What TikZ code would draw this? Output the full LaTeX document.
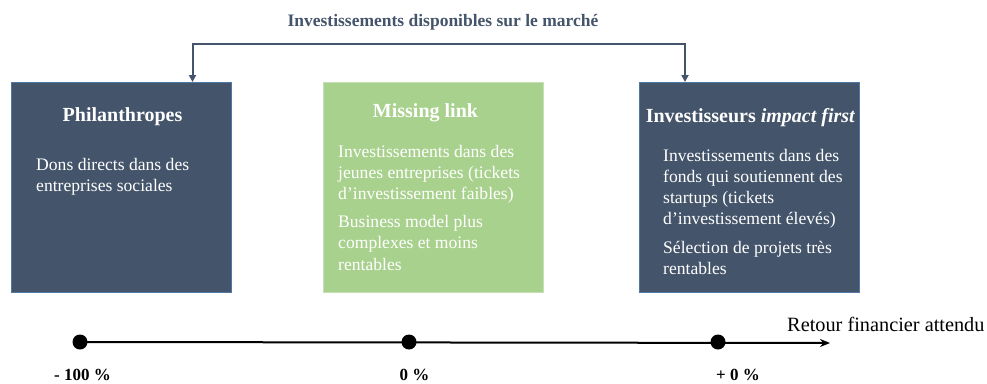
\documentclass[tikz,border=0pt]{standalone}
\usepackage{fontspec}
\setmainfont{Liberation Serif}
\usetikzlibrary{arrows.meta}
\definecolor{slate}{HTML}{44546A}
\definecolor{slateedge}{HTML}{4F7AA8}
\definecolor{leaf}{HTML}{A9D18E}
\definecolor{leafedge}{HTML}{C5E0B4}
% left-aligned block whose reference point is the first baseline
\newcommand{\firstline}[1]{\begin{tabular}[t]{@{}l@{}}#1\end{tabular}}
\begin{document}
\begin{tikzpicture}[x=1pt,y=-1pt,
  darkbox/.style={draw=slateedge,fill=slate,line width=0.8pt},
  greenbox/.style={draw=leafedge,fill=leaf,line width=0.8pt},
  heading/.style={text=white,font=\fontsize{20}{24}\selectfont\bfseries,inner sep=0pt,anchor=base},
  body/.style={text=white,font=\fontsize{17.6}{21.3}\selectfont,inner sep=0pt,anchor=base west},
  flow/.style={draw=slate,line width=2pt,-{Triangle[length=7pt,width=7pt]}},
  dot/.style={circle,fill=black,inner sep=0pt,minimum size=15pt},
  axis/.style={draw=black,line width=2pt,-{Stealth[length=10pt,width=8pt]}},
  tick/.style={font=\fontsize{17}{20}\selectfont\bfseries,inner sep=0pt,anchor=base}]
\useasboundingbox (0,0) rectangle (987,383);

% title over the bracket
\node[text=slate,font=\fontsize{17.5}{21}\selectfont\bfseries,inner sep=0pt,anchor=base]
  (title) at (443,26) {Investissements disponibles sur le marché};

% the three categories
\path[darkbox] (11.5,82) rectangle (231,292);
\coordinate (philTop) at (192.5,82);
\path[greenbox] (323.5,82) rectangle (543,292);
\path[darkbox] (639.5,82) rectangle (859,292);
\coordinate (impTop) at (685,82);

\node[heading] (philH) at (122.5,121) {Philanthropes};
\node[body] (philB) at (36,170) {\firstline{Dons directs dans des\\entreprises sociales}};

\node[heading] (missH) at (425.5,117) {Missing link};
\node[body] (missB) at (338,157) {\firstline{Investissements dans des\\jeunes entreprises (tickets\\d’investissement faibles)\\[6.5pt]Business model plus\\complexes et moins\\rentables}};

\node[heading] (impH) at (750.5,122) {Investisseurs \textit{impact first}};
\node[body] (impB) at (663,161) {\firstline{Investissements dans des\\fonds qui soutiennent des\\startups (tickets\\d’investissement élevés)\\[7pt]Sélection de projets très\\rentables}};

% bracket from the market to both ends
\coordinate (brL) at (192.5,43.5);
\coordinate (brR) at (685,43.5);
\draw[flow] (brR) -- (brL) -- (philTop);
\draw[flow] (brL) -- (brR) -- (impTop);

% expected financial return axis
\coordinate (axend) at (830,343);
\node[dot] (d1) at (80,342) {};
\node[dot] (d2) at (409,342) {};
\node[dot] (d3) at (718,342) {};
\draw[axis] (d1.center) -- (axend);
\node[font=\fontsize{20.3}{24}\selectfont,inner sep=0pt,anchor=base west] (ret) at (787,331) {Retour financier attendu};

\node[tick] (t1) at (82.5,380) {- 100 \%};
\node[tick] (t2) at (414.5,380) {0 \%};
\node[tick] (t3) at (738,380) {+ 0 \%};
\end{tikzpicture}
\end{document}
